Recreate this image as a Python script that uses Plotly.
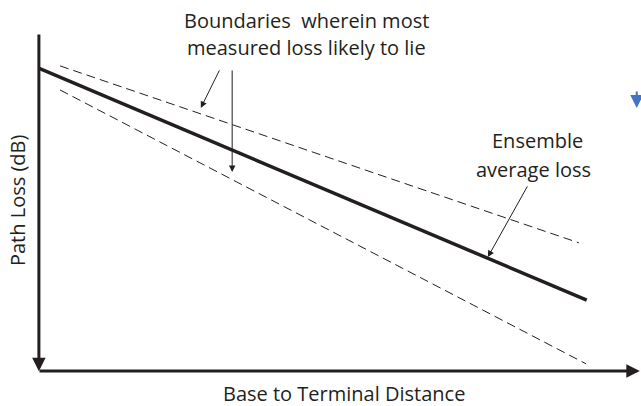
import plotly.graph_objects as go

# Conceptual data (arbitrary units: distance 0-100, path loss 0-100)
avg_x = [0.0, 91.0]
avg_y = [89.7, 21.2]
upper_x = [3.65, 89.7]
upper_y = [90.3, 38.1]
lower_x = [3.65, 90.9]
lower_y = [83.2, 2.4]

FONT = "Open Sans"
INK = "#231f20"

fig = go.Figure()
fig.add_trace(go.Scatter(x=upper_x, y=upper_y, mode="lines",
                         line=dict(color=INK, width=1, dash="9px,5px")))
fig.add_trace(go.Scatter(x=lower_x, y=lower_y, mode="lines",
                         line=dict(color=INK, width=1, dash="9px,5px")))
fig.add_trace(go.Scatter(x=avg_x, y=avg_y, mode="lines",
                         line=dict(color=INK, width=3.5)))

ann = []
# axes drawn as arrows
ann.append(dict(x=0.15, y=0.2, ax=0.15, ay=100, xref="x", yref="y", axref="x", ayref="y",
                showarrow=True, arrowhead=2, arrowsize=0.9, arrowwidth=3,
                arrowcolor=INK, text="", standoff=0))
ann.append(dict(x=99.8, y=0.3, ax=0, ay=0.3, xref="x", yref="y", axref="x", ayref="y",
                showarrow=True, arrowhead=2, arrowsize=0.9, arrowwidth=3,
                arrowcolor=INK, text="", standoff=0))
# pointer arrows
for (hx, hy, tx, ty) in [(27.0, 77.9, 30.2, 89.4), (32.2, 59.0, 32.2, 89.4),
                         (74.6, 33.9, 81.3, 55.2)]:
    ann.append(dict(x=hx, y=hy, ax=tx, ay=ty, xref="x", yref="y", axref="x", ayref="y",
                    showarrow=True, arrowhead=2, arrowsize=1.3, arrowwidth=1,
                    arrowcolor=INK, text="", standoff=0))
# texts (paper coordinates)
tf = dict(family=FONT, size=20, color=INK)
texts = [
    (0.446, 1.038, "Boundaries  wherein most", 0),
    (0.446, 0.956, "measured loss likely to lie", 0),
    (0.828, 0.684, "Ensemble", 0),
    (0.821, 0.596, "average loss", 0),
    (-0.035, 0.507, "Path Loss (dB)", -90),
    (0.507, -0.062, "Base to Terminal Distance", 0),
]
for (x, y, t, ang) in texts:
    ann.append(dict(x=x, y=y, xref="paper", yref="paper", text=t, textangle=ang,
                    xanchor="center", yanchor="middle", borderpad=0,
                    showarrow=False, font=tf))
# small blue arrow at right edge
ann.append(dict(x=0.993, y=0.779, xref="paper", yref="paper", ax=0, ay=-18,
                showarrow=True, arrowhead=2, arrowsize=1.3, arrowwidth=2,
                arrowcolor="#4472c4", text="", standoff=0))

fig.update_layout(
    width=641, height=406,
    margin=dict(l=38, r=0, t=33, b=34),
    paper_bgcolor="white", plot_bgcolor="white",
    showlegend=False,
    xaxis=dict(range=[0, 100], visible=False, fixedrange=True),
    yaxis=dict(range=[0, 100], visible=False, fixedrange=True),
    annotations=ann,
)

fig.write_html("out.html", config={"displayModeBar": False},
               post_script="document.body.style.margin='0';")
